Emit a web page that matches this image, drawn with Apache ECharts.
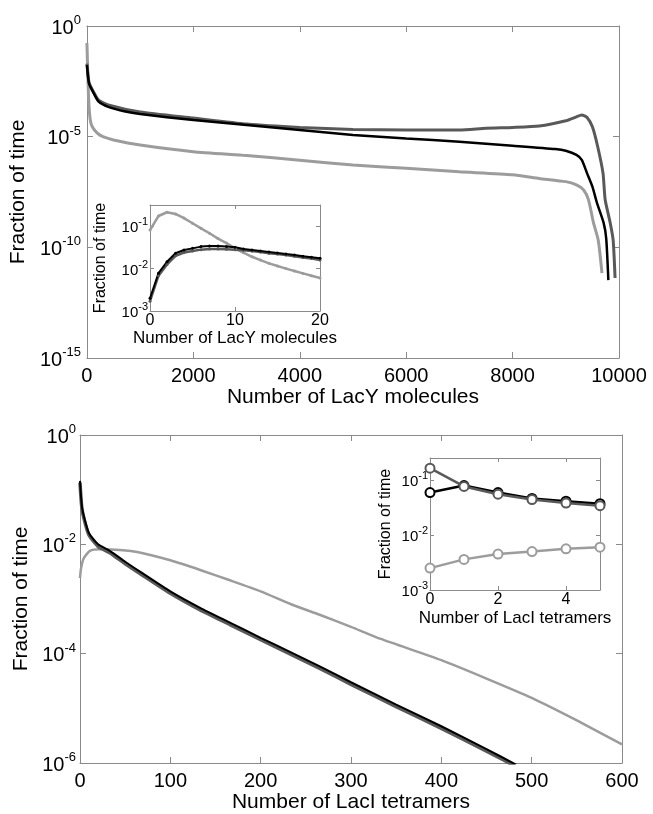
<!DOCTYPE html>
<html lang="en">
<head>
<meta charset="UTF-8">
<title>Fraction of time vs LacY / LacI</title>
<script src="https://cdn.jsdelivr.net/npm/echarts@6/dist/echarts.min.js"></script>
<style>
  html, body { margin: 0; padding: 0; background: #fff; }
  #chart { width: 653px; height: 814px; }
</style>
</head>
<body>
<div id="chart"></div>
<script>
// ---- data: top panel, number of LacY molecules ----
const lacyLight = [[0,1.7e-1],[30,6.3e-4],[60,6.3e-5],[100,2.8e-5],[200,1.4e-5],[300,1.0e-5],[500,7.1e-6],[1000,4.2e-6],[2000,2.1e-6],[3000,1.4e-6],[4000,8.7e-7],[5000,5.2e-7],[6000,3.7e-7],[7000,2.6e-7],[8000,1.9e-7],[8500,1.3e-7],[9000,9.3e-8],[9200,6.6e-8],[9335,3.9e-8],[9427,1.4e-8],[9520,1.3e-9],[9610,2.1e-10],[9680,6.9e-12]];
const lacyDark = [[0,2.0e-2],[40,2.8e-3],[130,1.0e-3],[220,4.5e-4],[400,2.7e-4],[1000,1.3e-4],[2000,6.9e-5],[3000,3.7e-5],[4000,2.6e-5],[5000,2.1e-5],[6000,2.0e-5],[7000,2.0e-5],[7500,2.4e-5],[8000,2.6e-5],[8500,3.0e-5],[9000,5.2e-5],[9200,7.9e-5],[9300,9.5e-5],[9400,7.4e-5],[9500,2.8e-5],[9600,3.5e-6],[9700,2.2e-7],[9740,1.4e-8],[9834,1.3e-9],[9890,2.1e-10],[9926,4.1e-12]];
const lacyBlack = [[0,1.7e-2],[40,2.5e-3],[130,8.9e-4],[220,3.8e-4],[400,2.2e-4],[700,1.4e-4],[1000,1.05e-4],[2000,5.6e-5],[3000,3.4e-5],[4000,2.0e-5],[5000,1.2e-5],[6000,8.3e-6],[7000,5.9e-6],[8000,3.9e-6],[8800,2.75e-6],[9000,2.3e-6],[9200,1.5e-6],[9300,8.9e-7],[9400,2.2e-7],[9500,5.5e-8],[9587,1.0e-8],[9710,1.3e-9],[9760,2.5e-10],[9800,3.3e-12]];

// inset: first 20 LacY molecules
const lacyInsetX = [0,1,2,3,4,5,6,7,8,9,10,11,12,13,14,15,16,17,18,19,20];
const lacyInsetLight = [0.081,0.174,0.213,0.194,0.155,0.117,0.089,0.068,0.051,0.040,0.030,0.0237,0.019,0.0159,0.0133,0.0115,0.0100,0.0088,0.0077,0.0068,0.0060];
const lacyInsetBlack = [0.0020,0.0078,0.0145,0.023,0.0275,0.030,0.033,0.034,0.034,0.033,0.0317,0.029,0.0275,0.026,0.0246,0.0233,0.022,0.021,0.0195,0.0185,0.0175];
const lacyInsetDark = [0.0017,0.0068,0.0125,0.020,0.024,0.026,0.028,0.029,0.029,0.0285,0.028,0.027,0.026,0.0245,0.023,0.022,0.021,0.0195,0.0183,0.0172,0.0160];

// ---- data: bottom panel, number of LacI tetramers ----
const laciLight = [[0,2.4e-3],[1,3.5e-3],[4,5.5e-3],[11,7.6e-3],[22,8.1e-3],[44,7.9e-3],[66,7.1e-3],[100,5.1e-3],[133,3.4e-3],[166,2.2e-3],[200,1.38e-3],[233,8.1e-4],[266,5.1e-4],[300,3.1e-4],[333,1.86e-4],[400,7.6e-5],[450,3.5e-5],[500,1.55e-5],[550,6.0e-6],[600,2.2e-6]];
const laciBlack = [[0,1.45e-1],[2,5.1e-2],[5,2.95e-2],[10,1.6e-2],[20,1.0e-2],[33,7.6e-3],[50,4.8e-3],[66,3.2e-3],[100,1.38e-3],[133,6.9e-4],[166,3.7e-4],[200,1.95e-4],[233,1.07e-4],[266,5.8e-5],[300,3.0e-5],[350,1.17e-5],[400,4.7e-6],[450,1.8e-6],[485,8.9e-7]];
const laciDark = [[0,1.35e-1],[2,4.7e-2],[5,2.7e-2],[10,1.47e-2],[20,9.2e-3],[33,7.0e-3],[50,4.4e-3],[66,2.95e-3],[100,1.27e-3],[133,6.3e-4],[166,3.4e-4],[200,1.8e-4],[233,9.8e-5],[266,5.3e-5],[300,2.75e-5],[350,1.07e-5],[400,4.3e-6],[450,1.65e-6],[485,8.2e-7]];

// inset: first 5 LacI tetramers
const laciInsetX = [0,1,2,3,4,5];
const laciInsetLight = [0.0025,0.0036,0.0045,0.0050,0.0056,0.0060];
const laciInsetBlack = [0.059,0.079,0.059,0.046,0.041,0.037];
const laciInsetDark = [0.163,0.076,0.055,0.044,0.038,0.034];

const FONT = '"Liberation Sans", Arial, sans-serif';
const AXIS = '#8a8a8a';
const LIGHT = '#9c9c9c', DARK = '#595959', BLACK = '#000000';

const chart = echarts.init(document.getElementById('chart'));

function powLabel(fs, sfs) {
  return {
    fontFamily: FONT,
    formatter: function (v) {
      const e = Math.round(Math.log10(v));
      return '{b|10}{s|' + e + '}';
    },
    rich: {
      b: { fontSize: fs, fontFamily: FONT, color: '#000', lineHeight: fs + 4, verticalAlign: 'bottom' },
      s: { fontSize: sfs, fontFamily: FONT, color: '#000', lineHeight: sfs, verticalAlign: 'top' }
    }
  };
}

function axisBase(gi, tickLen) {
  return {
    gridIndex: gi,
    axisLine: { show: true, onZero: false, lineStyle: { color: AXIS, width: 1 } },
    axisTick: { show: true, inside: true, length: tickLen, lineStyle: { color: AXIS } },
    splitLine: { show: false },
    minorTick: { show: false }
  };
}

// builds [bottom, top] x axes
function xPair(gi, min, max, interval, cfg) {
  const b = axisBase(gi, cfg.tick);
  return [
    Object.assign({}, b, {
      type: 'value', position: 'bottom', min: min, max: max, interval: interval,
      name: cfg.name, nameLocation: 'middle', nameGap: cfg.nameGap,
      nameTextStyle: { fontSize: cfg.nameSize, fontFamily: FONT, color: '#000' },
      axisLabel: { fontSize: cfg.size, fontFamily: FONT, color: '#000', margin: cfg.margin,
                   showMaxLabel: cfg.showMax !== false,
                   formatter: function (v) { return String(v); } }
    }),
    Object.assign({}, b, {
      type: 'value', position: 'top', min: min, max: max, interval: interval,
      axisLabel: { show: false }
    })
  ];
}

// builds [left, right] log y axes
function yPair(gi, min, max, interval, cfg) {
  const b = axisBase(gi, cfg.tick);
  return [
    Object.assign({}, b, {
      type: 'log', logBase: 10, position: 'left', min: min, max: max, interval: interval,
      name: cfg.name, nameLocation: 'middle', nameGap: cfg.nameGap, nameRotate: 90,
      nameTextStyle: { fontSize: cfg.nameSize, fontFamily: FONT, color: '#000' },
      axisLabel: Object.assign(powLabel(cfg.size, cfg.sup), { margin: cfg.margin, showMaxLabel: cfg.showMax !== false })
    }),
    Object.assign({}, b, {
      type: 'log', logBase: 10, position: 'right', min: min, max: max, interval: interval,
      axisLabel: { show: false }
    })
  ];
}

const mainX = { tick: 6, size: 20, nameSize: 21, margin: 8 };
const mainY = { tick: 6, size: 20, sup: 13, nameSize: 21, margin: 4 };
const insX = { tick: 4, size: 16, nameSize: 17, margin: 2 };
const insY = { tick: 4, size: 15, sup: 11, nameSize: 16, margin: 2 };

const xAxis = [].concat(
  xPair(0, 0, 10000, 2000, Object.assign({}, mainX, { name: 'Number of LacY molecules', nameGap: 26 })),
  xPair(1, 0, 20, 10, Object.assign({}, insX, { name: 'Number of LacY molecules', nameGap: 10 })),
  xPair(2, 0, 600, 100, Object.assign({}, mainX, { name: 'Number of LacI tetramers', nameGap: 29 })),
  xPair(3, 0, 5, 2, Object.assign({}, insX, { name: 'Number of LacI tetramers', nameGap: 20, showMax: false }))
);
const yAxis = [].concat(
  yPair(0, 1e-15, 1, 5, Object.assign({}, mainY, { name: 'Fraction of time', nameGap: 50, margin: 6 })),
  yPair(1, 1e-3, 0.316, 1, Object.assign({}, insY, { name: 'Fraction of time', nameGap: 41, showMax: false })),
  yPair(2, 1e-6, 1, 2, Object.assign({}, mainY, { name: 'Fraction of time', nameGap: 48 })),
  yPair(3, 1e-3, 0.25, 1, Object.assign({}, insY, { name: 'Fraction of time', nameGap: 36, showMax: false }))
);

function line(gi, data, color, width, extra) {
  return Object.assign({
    type: 'line', xAxisIndex: gi * 2, yAxisIndex: gi * 2, data: data,
    showSymbol: false, symbol: 'none', smooth: 0.2, clip: true,
    lineStyle: { color: color, width: width }, itemStyle: { color: color },
    emphasis: { disabled: true }, silent: true, z: 2
  }, extra || {});
}
function zipXY(xs, ys) { return xs.map(function (x, i) { return [x, ys[i]]; }); }

const dotStyle = function (c) {
  return { showSymbol: true, symbol: 'circle', symbolSize: 3, smooth: false, itemStyle: { color: c } };
};
const ringStyle = function (c, z) {
  return { showSymbol: true, symbol: 'emptyCircle', symbolSize: 9, smooth: false, z: z,
           itemStyle: { color: c, borderColor: c, borderWidth: 2.5 } };
};

const series = [
  line(0, lacyLight, LIGHT, 3),
  line(0, lacyDark, DARK, 3),
  line(0, lacyBlack, BLACK, 2.5),

  line(1, zipXY(lacyInsetX, lacyInsetLight), LIGHT, 2.5, dotStyle(LIGHT)),
  line(1, zipXY(lacyInsetX, lacyInsetDark), DARK, 2.5, dotStyle(DARK)),
  line(1, zipXY(lacyInsetX, lacyInsetBlack), BLACK, 2, dotStyle(BLACK)),

  line(2, laciLight, LIGHT, 2.5),
  line(2, laciDark, DARK, 3.5),
  line(2, laciBlack, BLACK, 2),

  line(3, zipXY(laciInsetX, laciInsetLight), LIGHT, 2.5, ringStyle(LIGHT, 3)),
  line(3, zipXY(laciInsetX, laciInsetBlack), BLACK, 2.5, ringStyle(BLACK, 3)),
  line(3, zipXY(laciInsetX, laciInsetDark), DARK, 2.5, ringStyle(DARK, 4))
];

chart.setOption({
  animation: false,
  backgroundColor: '#fff',
  grid: [
    { left: 78, top: 26, width: 541, height: 332 },
    { left: 150, top: 205, width: 170, height: 106 },
    { left: 80, top: 435, width: 542, height: 332 },
    { left: 430, top: 458, width: 170, height: 132 }
  ],
  xAxis: xAxis,
  yAxis: yAxis,
  series: series
});
</script>
</body>
</html>
